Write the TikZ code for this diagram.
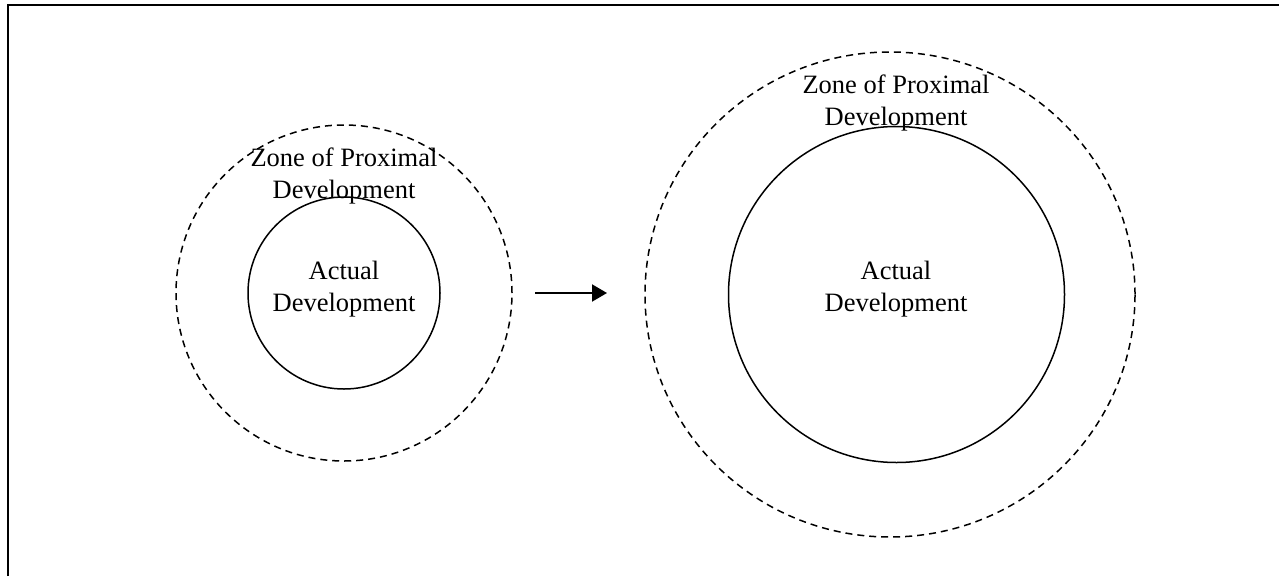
\documentclass[tikz,border=0pt]{standalone}
\usepackage{fontspec}
\setmainfont{Liberation Serif}
\usetikzlibrary{arrows.meta,shapes.geometric}
\begin{document}
\begin{tikzpicture}[x=1pt,y=-1pt,
  labeltext/.style={font=\fontsize{26.5}{32}\selectfont, align=center, inner sep=0pt, anchor=base},
  ring/.style={draw, line width=1.5pt, inner sep=0pt, outer sep=0pt},
  zone/.style={draw, line width=1.5pt, dash pattern=on 7pt off 5pt, inner sep=0pt, outer sep=0pt},
  growth/.style={line width=2pt, -{Triangle[length=15pt,width=17pt]}}]
\useasboundingbox (0,0) rectangle (1279,576);
% frame edges (top and left)
\draw[line width=2pt] (8,576) -- (8,5) -- (1279,5);

% before: small actual development inside its zone
\node[zone, circle, minimum size=336pt] (zpd1) at (344,293) {};
\node[ring, circle, minimum size=192pt] (ad1) at (344,293) {};

% after: both circles have grown
\node[zone, ellipse, minimum width=490pt, minimum height=485pt] (zpd2) at (890,294.5) {};
\node[ring, circle, minimum size=336pt] (ad2) at (896.5,294.5) {};

% labels (anchored on the baseline of the last line)
\node[labeltext] (zpdtext1) at (344,198) {Zone of Proximal\\Development};
\node[labeltext] (adtext1) at (344,311) {Actual\\Development};
\node[labeltext] (zpdtext2) at (896,125) {Zone of Proximal\\Development};
\node[labeltext] (adtext2) at (896,311) {Actual\\Development};

% progression arrow
\draw[growth, shorten <=23pt, shorten >=38pt] (zpd1.east) -- (zpd1.east -| zpd2.west);
\end{tikzpicture}
\end{document}
